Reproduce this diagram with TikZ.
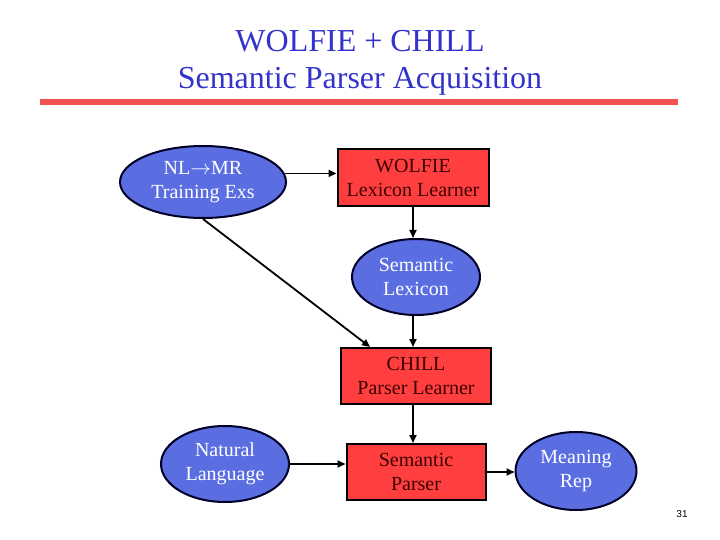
\documentclass[tikz,border=0pt]{standalone}
\usepackage{fontspec}
\setmainfont{Liberation Serif}
\newfontfamily\pagefont{Liberation Sans}
\usetikzlibrary{shapes.geometric,arrows.meta,calc}
\definecolor{titleblue}{HTML}{3333CC}
\definecolor{ellfill}{HTML}{5B6EE1}
\definecolor{boxfill}{HTML}{FF3F3F}
\definecolor{boxtext}{HTML}{3D0000}
\definecolor{rulered}{HTML}{F25252}
\tikzset{
  ellnode/.style={ellipse, draw=black!85!blue, line width=2pt, fill=ellfill,
    text=white, inner sep=0pt, align=center,
    font=\fontsize{20}{24}\selectfont},
  boxnode/.style={rectangle, draw=black, line width=2pt, fill=boxfill,
    text=boxtext, inner sep=0pt, align=center,
    font=\fontsize{20}{24}\selectfont},
  arr/.style={line width=1.8pt, -{Triangle[length=8pt,width=7pt]}},
}
\begin{document}
\begin{tikzpicture}[x=1pt,y=-1pt]
\useasboundingbox (0,0) rectangle (720,540);
% title
\node[text=titleblue, align=center, font=\fontsize{32}{37}\selectfont] (title) at (360,62.5)
  {WOLFIE + CHILL\\Semantic Parser Acquisition};
\fill[rulered] (40,99) rectangle (678,105);
% nodes
\node[ellnode, minimum width=166pt, minimum height=72pt] (nlmr) at (203,182)
  {NL$\rightarrow$MR\\Training Exs};
\node[boxnode, minimum width=151pt, minimum height=57pt] (wolfie) at (413,177.5)
  {WOLFIE\\Lexicon Learner};
\node[ellnode, minimum width=128pt, minimum height=76pt] (lexicon) at (416,277)
  {Semantic\\Lexicon};
\node[boxnode, minimum width=150pt, minimum height=56pt] (chill) at (416,376)
  {CHILL\\Parser Learner};
\node[boxnode, minimum width=139pt, minimum height=56pt] (parser) at (416,472)
  {Semantic\\Parser};
\node[ellnode, minimum width=128pt, minimum height=76pt] (natlang) at (225,464)
  {Natural\\Language};
\node[ellnode, minimum width=121pt, minimum height=78pt] (meaning) at (576,471)
  {Meaning\\Rep};
\node[font=\pagefont\fontsize{10}{12}\selectfont] (pagenum) at (682,514) {31};
% connectors
\draw[arr] (nlmr.6) -- (nlmr.6 -| wolfie.west);
\draw[arr] (wolfie.south) -- (wolfie.south |- lexicon.north);
\draw[arr] (lexicon.south -| wolfie.south) -- (wolfie.south |- chill.north);
\draw[arr] (nlmr.south) -- ($(chill.north west)+(30,0)$);
\draw[arr] (wolfie.south |- chill.south) -- (wolfie.south |- parser.north);
\draw[arr] (natlang.east) -- (natlang.east -| parser.west);
\draw[arr] (parser.east) -- (parser.east -| meaning.west);
\end{tikzpicture}
\end{document}
